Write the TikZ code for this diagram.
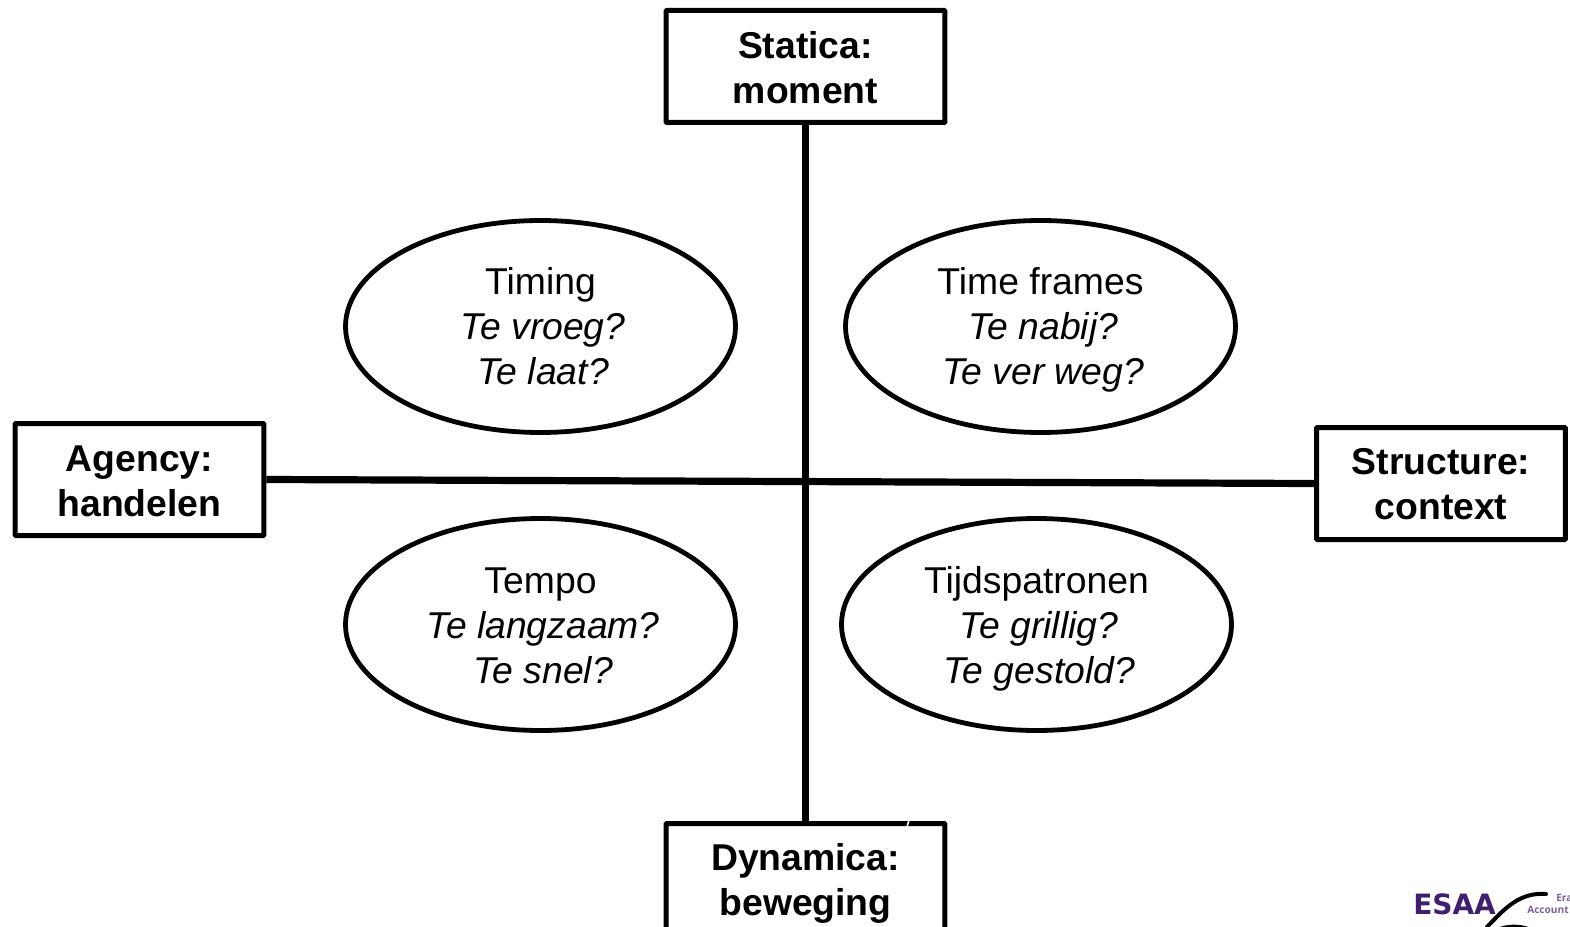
\documentclass[tikz,border=0pt]{standalone}
\usepackage{fontspec}
\usetikzlibrary{shapes.geometric}
\setmainfont{Liberation Sans}
\newfontfamily\logofont{DejaVu Sans}
\newfontfamily\logosmall{Open Sans}
\definecolor{esaa}{HTML}{3F1F6E}
\newcommand{\boxtop}{\rule{0pt}{30.5pt}}
\newcommand{\boxbot}{\rule[-8pt]{0pt}{8pt}}
\newcommand{\boxbotb}{\rule[-9.5pt]{0pt}{9.5pt}}
\newcommand{\boxbotc}{\rule[-11pt]{0pt}{11pt}}
\newcommand{\ovaltop}{\rule{0pt}{29.5pt}}
\newcommand{\ovaltopb}{\rule{0pt}{31pt}}
\newcommand{\ovalbot}{\rule[-10pt]{0pt}{10pt}}
\newcommand{\itl}{\itshape\hspace*{4pt}}
\tikzset{
  px/.style={x=0.75pt,y=-0.75pt},
  boxnode/.style={draw=black,line width=3.75pt,rectangle,align=center,inner sep=0pt,
    minimum width=186.5pt,minimum height=84pt,font=\fontsize{28}{33.75}\selectfont\bfseries,rounded corners=0.6pt},
  widebox/.style={boxnode,minimum width=209pt},
  oval/.style={draw=black,line width=3.6pt,ellipse,align=center,inner sep=0pt,
    minimum width=292.5pt,minimum height=159pt,font=\fontsize{28}{33.75}\selectfont},
  axis/.style={draw=black,line width=5.4pt},
  smalllogo/.style={anchor=west,inner sep=0pt,text=esaa!70,font=\logosmall\bfseries\fontsize{7.6}{7.6}\selectfont},
}
\begin{document}
\begin{tikzpicture}[px]
\useasboundingbox (0,0) rectangle (1570,927);
\clip (0,0) rectangle (1570,927);
\node[widebox] (statica) at (805.5,66.5) {\boxtop Statica:\\moment\boxbot};
\node[widebox,minimum height=81pt] (dynamica) at (805.5,877.5) {\boxtop Dynamica:\\beweging\boxbot};
\node[boxnode] (agency) at (139.5,479.5) {\boxtop Agency:\\handelen\boxbotb};
\node[boxnode] (structure) at (1441,483.5) {\boxtop Structure:\\context\boxbotc};
\draw[axis] (statica.south) -- (dynamica.north);
\draw[axis] (agency.east) -- (structure.west);
\node[oval] (timing) at (540.5,326.5) {\ovaltop Timing\\\itl Te vroeg?\\\itl Te laat?\ovalbot};
\node[oval] (frames) at (1040.5,326.5) {\ovaltop Time frames\\\itl Te nabij?\\\itl Te ver weg?\ovalbot};
\node[oval] (tempo) at (540.5,624.5) {\ovaltopb Tempo\\\itl Te langzaam?\\\itl Te snel?\ovalbot};
\node[oval] (tijd) at (1036.5,624.5) {\ovaltopb Tijdspatronen\\\itl Te grillig?\\\itl Te gestold?\ovalbot};
% small nick in the top border of the lower box
\coordinate (nicka) at (909,820);
\coordinate (nickb) at (907,827);
\draw[white,line width=1.2pt] (nicka) -- (nickb);
% logo, cut off by the page edge
\node[anchor=west,inner sep=0pt,text=esaa,font=\logofont\bfseries\fontsize{21}{21}\selectfont] (esaa) at (1413,904) {ESAA};
\node[smalllogo] (era) at (1556,898) {Era};
\node[smalllogo] (acc) at (1527,910) {Account};
\coordinate (sw1) at (1487,927);
\coordinate (sw2) at (1546,894);
\draw[black,line width=3pt,line cap=round] (sw1) .. controls (1505,908) and (1520,892) .. (sw2);
\coordinate (sw3) at (1500,928);
\coordinate (sw4) at (1528,928);
\draw[black,line width=1.6pt] (sw3) .. controls (1508,925) and (1520,925) .. (sw4);
\end{tikzpicture}
\end{document}
